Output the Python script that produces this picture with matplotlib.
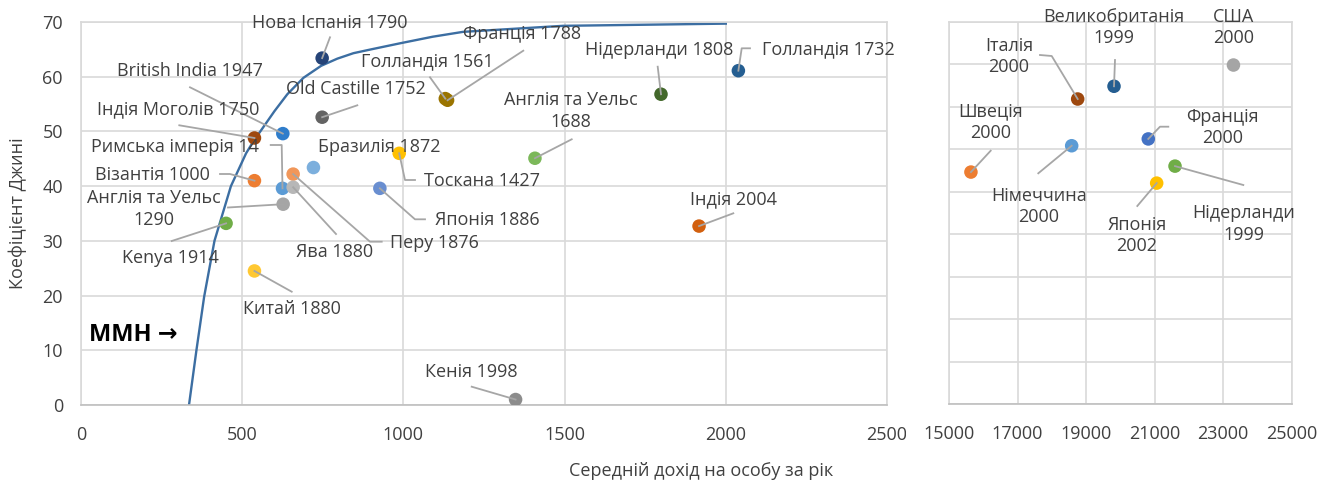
import matplotlib
matplotlib.use("Agg")
import matplotlib.pyplot as plt
from matplotlib.transforms import Bbox

plt.rcParams['font.family'] = ['Open Sans', 'DejaVu Sans']
FS = 13

# ---- left panel: historical societies ----
hist_names = ["Нова Іспанія 1790", "Голландія 1561", "Франція 1788", "Old Castille 1752",
              "British India 1947", "Індія Моголів 1750", "Римська імперія 14", "Візантія 1000",
              "Перу 1876", "Ява 1880", "Бразилія 1872", "Тоскана 1427", "Японія 1886",
              "Англія та Уельс\n1290", "Kenya 1914", "Китай 1880", "Кенія 1998", "Індія 2004",
              "Англія та Уельс\n1688", "Нідерланди 1808", "Голландія 1732"]
hist_income = [748, 1130, 1137, 748, 626, 538, 625, 538, 658, 658, 721, 987, 927,
               627, 450, 538, 1348, 1917, 1408, 1799, 2039]
hist_gini = [63.4, 56.0, 55.7, 52.6, 49.6, 48.8, 39.6, 41.0, 42.2, 39.8, 43.4, 46.0, 39.6,
             36.7, 33.2, 24.5, 1.0, 32.7, 45.1, 56.8, 61.1]
hist_colors = ["#264478", "#997300", "#9A7400", "#636363", "#2F7DCB", "#9E480E", "#5B9BD5",
               "#ED7D31", "#F1975A", "#B7B7B7", "#7CAFDD", "#FFC000", "#698ED0", "#A5A5A5",
               "#70AD47", "#FFC832", "#8C8C8C", "#D2600F", "#7CB85A", "#43682B", "#255E91"]

# inequality possibility frontier
ipf_income = [335, 358, 382, 414, 465, 512, 538, 555, 600, 640, 690, 745, 795, 845, 900,
              989, 1090, 1185, 1495, 2000]
ipf_gini = [0, 10, 19.8, 30, 40, 46, 48.5, 49.9, 53.7, 56.8, 59.8, 62.0, 63.3, 64.3, 65.0,
            66.1, 67.3, 68.2, 69.3, 69.7]

# ---- right panel: modern societies ----
mod_names = ["Швеція\n2000", "Німеччина\n2000", "Італія\n2000", "Великобританія\n1999",
             "США\n2000", "Франція\n2000", "Японія\n2002", "Нідерланди\n1999"]
mod_income = [15640, 18580, 18755, 19815, 23300, 20815, 21060, 21595]
mod_gini = [27.3, 30.4, 35.9, 37.4, 39.9, 31.2, 26.0, 28.0]
mod_colors = ["#ED7D31", "#5B9BD5", "#9E480E", "#255E91", "#A5A5A5", "#4472C4", "#FFC000", "#70AD47"]

# label centres and leader waypoints, in figure pixels from the top-left
hist_label_pos = [(330, 22.5), (427.5, 61), (522, 33.7), (356, 89.5), (190, 70.8), (178, 109),
                  (175, 147.5), (152, 174.5), (434, 243.3), (335, 251.7), (379, 147.5),
                  (482.5, 180.7), (487.5, 220), (154, 209), (170, 258.3), (291.7, 309),
                  (471.7, 371.7), (733.3, 199), (570.7, 110.8), (658.7, 50), (828.3, 49)]
hist_leaders = [[(330, 37.3)], [(430, 77.3)], [(523.3, 50.7)], [(357.3, 105.3)], [(190, 87.3)],
                [(179.3, 125.3)], [(270.7, 145), (281.7, 145)], [(220, 174), (230, 174)],
                [(381.7, 241.7), (370, 241.7)], [(336, 234)], [], [(415, 180), (405, 180)],
                [(425, 219.3), (415, 219.3)], [(228, 207.5)], [(171.7, 241)], [(291.7, 291.7)],
                [(471.7, 386.7)], [(733.3, 213.3)], [(571.7, 139.3)], [(657.7, 66.7)],
                [(750, 48.3), (741.7, 48.3)]]
mod_label_pos = [(990.7, 122), (1039, 206.5), (1009, 56.5), (1113.7, 27.5), (1233.3, 27.5),
                 (1222.7, 127.5), (1136.7, 235.5), (1244, 223.8)]
mod_leaders = [[(990.7, 150.7)], [(1038.3, 173.3)], [(1040, 55), (1051.7, 56)], [(1115, 60)], [],
               [(1168.3, 126.7), (1160, 126.7)], [(1137.3, 206)], [(1243.3, 185)]]

W, H = 1335, 486
TXT = "#404040"
GRID = "#D9D9D9"
LEAD = "#A6A6A6"

fig = plt.figure(figsize=(W / 100, H / 100), dpi=100)
axL = fig.add_axes([81 / W, 1 - 405 / H, (887 - 81) / W, (405 - 22) / H])
axR = fig.add_axes([949 / W, 1 - 404 / H, (1291.7 - 949) / W, (404 - 21.7) / H])

def style(ax):
    ax.grid(True, color=GRID, linewidth=1.2, zorder=0)
    ax.set_axisbelow(True)
    for s in ax.spines.values():
        s.set_color(GRID)
        s.set_linewidth(1.2)
    ax.spines['bottom'].set_color("#BFBFBF")
    ax.tick_params(length=0, labelsize=FS, labelcolor=TXT)
    ax.tick_params(axis='x', pad=15)
    ax.tick_params(axis='y', pad=13)

axL.set_xlim(0, 2500)
axL.set_ylim(0, 70)
axL.set_xticks(range(0, 2501, 500))
axL.set_yticks(range(0, 71, 10))
style(axL)

axR.set_xlim(15000, 25000)
axR.set_ylim(0, 45)
axR.set_xticks(range(15000, 25001, 2000))
axR.set_yticks(range(0, 46, 5))
axR.set_yticklabels([])
style(axR)

# clip the left '2500' label where the right panel begins
lab = axL.get_xticklabels()[-1]
lab.set_clip_box(Bbox([[0, 0], [906, H]]))
lab.set_clip_on(True)

axL.plot(ipf_income, ipf_gini, color="#3C6EA2", linewidth=1.7, zorder=2,
         solid_joinstyle="round")
axL.scatter(hist_income, hist_gini, s=95, c=hist_colors, zorder=3, linewidths=0)
axR.scatter(mod_income, mod_gini, s=95, c=mod_colors, zorder=3, linewidths=0)

def draw_labels(ax, names, xs, ys, positions, leaders):
    inv = ax.transData.inverted()
    for name, x, y, (cx, cy), way in zip(names, xs, ys, positions, leaders):
        fig.text(cx / W, 1 - cy / H, name, ha="center", va="center", fontsize=FS,
                 color=TXT, linespacing=1.25)
        if way:
            pts = [inv.transform((px, H - py)) for px, py in way]
            lx = [p[0] for p in pts] + [x]
            ly = [p[1] for p in pts] + [y]
            ax.plot(lx, ly, color=LEAD, linewidth=1.3, zorder=4, clip_on=False)

draw_labels(axL, hist_names, hist_income, hist_gini, hist_label_pos, hist_leaders)
draw_labels(axR, mod_names, mod_income, mod_gini, mod_label_pos, mod_leaders)

fig.text(89 / W, 1 - 335 / H, "ММН →", ha="left", va="center", fontsize=17,
         fontweight="bold", color="black")
fig.text(18 / W, 1 - 213.5 / H, "Коефіцієнт Джині", rotation=90, ha="center", va="center",
         fontsize=FS, color=TXT)
fig.text(701 / W, 1 - 470.5 / H, "Середній дохід на особу за рік", ha="center", va="center",
         fontsize=FS, color=TXT)

fig.savefig("out.png", dpi=100)
